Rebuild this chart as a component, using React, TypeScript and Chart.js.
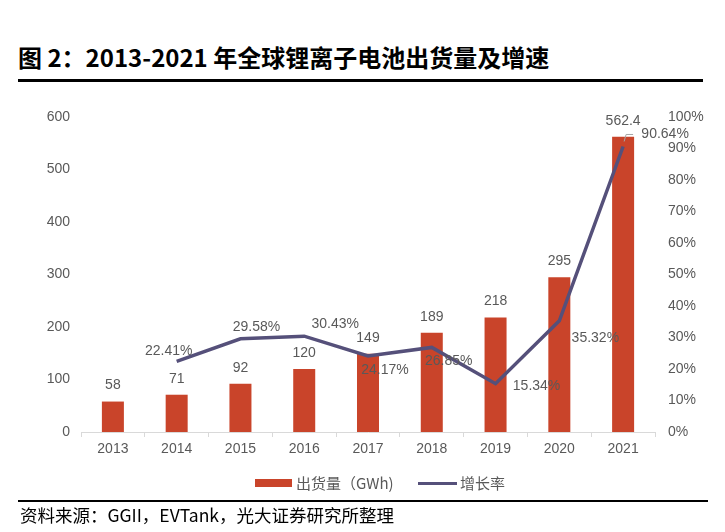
import React, { useEffect, useRef } from "react";
import { Chart, registerables } from "chart.js";

Chart.register(...registerables);

const years = ["2013", "2014", "2015", "2016", "2017", "2018", "2019", "2020", "2021"];
const shipments = [58, 71, 92, 120, 149, 189, 218, 295, 562.4];
const growth = [null, 22.41, 29.58, 30.43, 24.17, 26.85, 15.34, 35.32, 90.64];
const leftTicks = [0, 100, 200, 300, 400, 500, 600];
const rightTicks = [0, 10, 20, 30, 40, 50, 60, 70, 80, 90, 100];

// label offsets (styling only) for the growth labels
const growthLabelOffsets: [number, number][] = [
  [0, 0], [-8, -10], [16, -12], [31, -12], [17, 14], [17, 14], [41, 2], [36, 17], [42, -12],
];

const BAR_COLOR = "#C9442A";
const LINE_COLOR = "#55507A";
const TEXT_GRAY = "#595959";
const TICK_FONT = { family: "'Liberation Sans', Arial, sans-serif", size: 14 };

const labelPlugin = {
  id: "valueLabels",
  afterDatasetsDraw(chart: any) {
    const ctx = chart.ctx;
    ctx.save();
    ctx.font = "14px 'Liberation Sans', Arial, sans-serif";
    ctx.fillStyle = TEXT_GRAY;
    ctx.textAlign = "center";
    ctx.textBaseline = "middle";
    const barMeta = chart.getDatasetMeta(1);
    barMeta.data.forEach((el: any, i: number) => {
      const v = shipments[i];
      ctx.fillText(String(v), el.x, el.y - 16);
    });
    const lineMeta = chart.getDatasetMeta(0);
    lineMeta.data.forEach((el: any, i: number) => {
      const v = growth[i];
      if (v == null) return;
      const [dx, dy] = growthLabelOffsets[i];
      if (i === growth.length - 1) {
        ctx.save();
        ctx.strokeStyle = "#A6A6A6";
        ctx.lineWidth = 1;
        ctx.beginPath();
        ctx.moveTo(el.x + 1, el.y - 5);
        ctx.lineTo(el.x + 3, el.y - 12);
        ctx.lineTo(el.x + 10, el.y - 12);
        ctx.stroke();
        ctx.restore();
      }
      ctx.fillText(v.toFixed(2) + "%", el.x + dx, el.y + dy);
    });
    ctx.restore();
  },
};

export default function App() {
  const ref = useRef<HTMLCanvasElement>(null);
  useEffect(() => {
    document.body.style.margin = "0";
    const chart = new Chart(ref.current!, {
      type: "bar",
      data: {
        labels: years,
        datasets: [
          {
            type: "line",
            label: "增长率",
            data: growth as any,
            yAxisID: "y1",
            borderColor: LINE_COLOR,
            backgroundColor: LINE_COLOR,
            borderWidth: 3.5,
            pointRadius: 0,
            tension: 0,
            order: 0,
          },
          {
            type: "bar",
            label: "出货量（GWh)",
            data: shipments,
            yAxisID: "y",
            backgroundColor: BAR_COLOR,
            barPercentage: 0.69,
            categoryPercentage: 0.5,
            order: 1,
          },
        ],
      },
      options: {
        responsive: false,
        animation: false,
        layout: { padding: { left: 0, right: 0, top: 117, bottom: 70 } },
        plugins: { legend: { display: false }, tooltip: { enabled: false } },
        scales: {
          x: {
            offset: true,
            grid: { display: true, drawOnChartArea: false, tickLength: 5, color: "#D9D9D9" },
            border: { display: true, color: "#D9D9D9", width: 1 },
            ticks: { color: TEXT_GRAY, font: TICK_FONT, padding: 4 },
            afterFit: (s: any) => { s.height = 30; },
          },
          y: {
            position: "left",
            min: 0,
            max: 600,
            grid: { display: false, drawTicks: false },
            border: { display: false },
            ticks: { stepSize: 100, color: TEXT_GRAY, font: TICK_FONT, padding: 11 },
            afterBuildTicks: (s: any) => { s.ticks = leftTicks.map((v) => ({ value: v })); },
            afterFit: (s: any) => { s.width = 81; },
          },
          y1: {
            position: "right",
            min: 0,
            max: 100,
            grid: { display: false, drawTicks: false },
            border: { display: false },
            ticks: {
              stepSize: 10,
              color: TEXT_GRAY,
              font: TICK_FONT,
              padding: 13,
              callback: (v: any) => v + "%",
            },
            afterBuildTicks: (s: any) => { s.ticks = rightTicks.map((v) => ({ value: v })); },
            afterFit: (s: any) => { s.width = 70; },
          },
        },
      },
      plugins: [labelPlugin],
    });
    return () => chart.destroy();
  }, []);

  const cjk = "'Noto Sans CJK SC', 'Noto Sans', sans-serif";
  return (
    <div style={{ position: "absolute", left: 0, top: 0, width: 725, height: 532, background: "#fff", overflow: "hidden" }}>
      <div style={{ position: "absolute", left: 18, top: 42, fontFamily: cjk, fontWeight: 700, fontSize: 24, lineHeight: "30px", color: "#000", whiteSpace: "nowrap" }}>
        图 2：2013-2021 年全球锂离子电池出货量及增速
      </div>
      <div style={{ position: "absolute", left: 18, top: 79, width: 685, height: 3, background: "#000" }} />
      <canvas ref={ref} width={725} height={532} style={{ position: "absolute", left: 0, top: 0 }} />
      <div style={{ position: "absolute", left: 255, top: 479, width: 37, height: 8, background: BAR_COLOR }} />
      <div style={{ position: "absolute", left: 296, top: 473, fontFamily: cjk, fontSize: 15, lineHeight: "20px", color: TEXT_GRAY, whiteSpace: "nowrap" }}>
        出货量（GWh)
      </div>
      <div style={{ position: "absolute", left: 418, top: 482, width: 39, height: 3, background: LINE_COLOR }} />
      <div style={{ position: "absolute", left: 460, top: 473, fontFamily: cjk, fontSize: 15, lineHeight: "20px", color: TEXT_GRAY, whiteSpace: "nowrap" }}>
        增长率
      </div>
      <div style={{ position: "absolute", left: 18, top: 500, width: 690, height: 2, background: "#000" }} />
      <div style={{ position: "absolute", left: 20, top: 503, fontFamily: cjk, fontSize: 17.5, lineHeight: "24px", color: "#000", whiteSpace: "nowrap" }}>
        资料来源：GGII，EVTank，光大证券研究所整理
      </div>
    </div>
  );
}
